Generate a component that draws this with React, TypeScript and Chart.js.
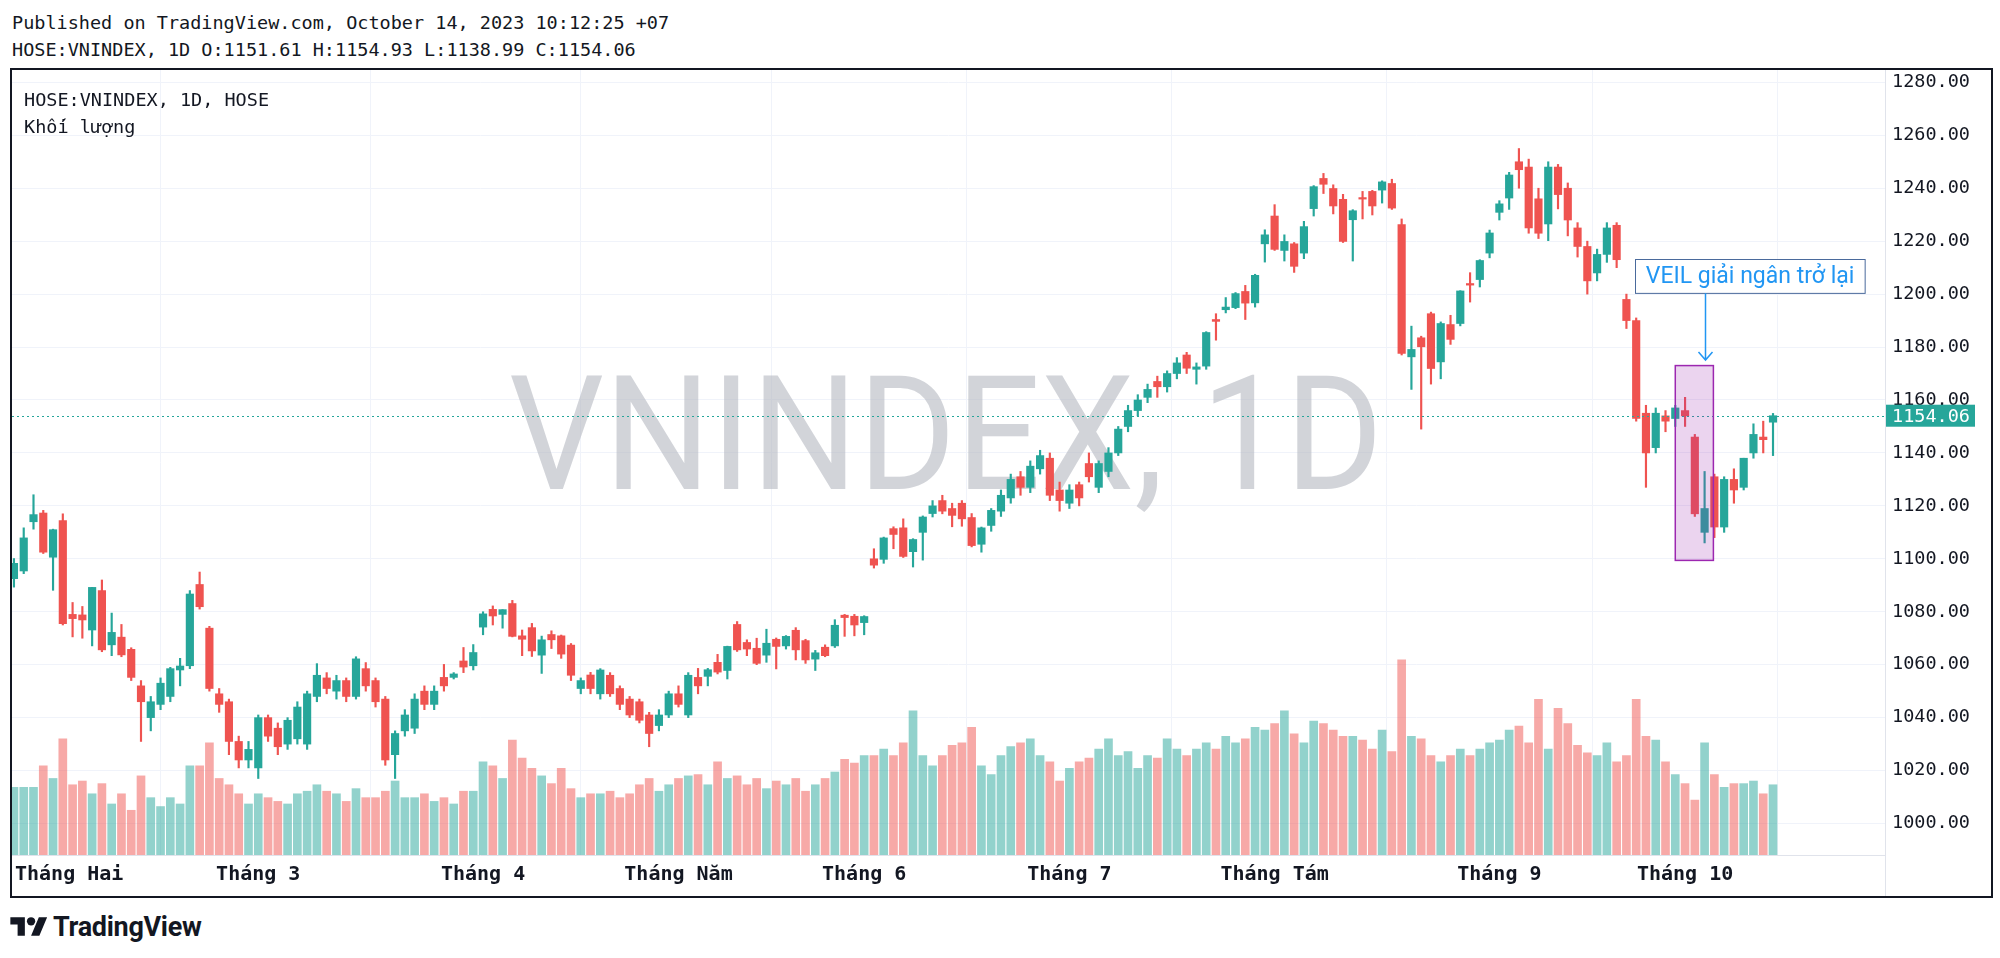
import React, { useEffect, useRef } from "react";
import { Chart, registerables } from "chart.js";

Chart.register(...registerables);

// ---------------- DATA ----------------
const opens = [
  1092.5, 1095.4, 1114.0, 1117.3, 1100.6, 1114.4, 1079.0, 1078.8, 1073.1, 1088.0,
  1067.5, 1070.4, 1065.8, 1052.0, 1040.0, 1045.0, 1048.0, 1058.0, 1059.6, 1090.3,
  1073.8, 1049.0, 1046.0, 1031.0, 1024.0, 1021.0, 1040.0, 1036.0, 1030.0, 1032.0,
  1030.0, 1048.0, 1055.0, 1050.0, 1054.0, 1048.0, 1058.5, 1054.0, 1047.0, 1026.0,
  1035.0, 1036.0, 1050.0, 1045.0, 1055.2, 1055.2, 1061.4, 1059.6, 1074.2, 1080.9,
  1079.0, 1083.1, 1070.9, 1074.0, 1063.6, 1071.4, 1070.9, 1067.4, 1051.0, 1056.1,
  1049.0, 1056.0, 1051.0, 1047.0, 1046.0, 1041.0, 1037.0, 1041.0, 1049.0, 1041.0,
  1055.2, 1055.6, 1060.9, 1057.8, 1075.2, 1068.4, 1066.2, 1063.6, 1069.6, 1067.1,
  1073.0, 1069.1, 1062.1, 1066.6, 1067.1, 1078.7, 1078.3, 1075.9, 1100.0, 1099.8,
  1111.4, 1111.7, 1102.7, 1110.0, 1117.1, 1122.0, 1119.0, 1121.0, 1115.6, 1105.5,
  1112.6, 1118.0, 1123.0, 1131.0, 1127.0, 1134.0, 1138.0, 1126.0, 1121.0, 1128.0,
  1136.0, 1127.0, 1133.0, 1140.0, 1150.0, 1156.0, 1161.0, 1167.0, 1165.0, 1170.0,
  1177.0, 1171.6, 1172.8, 1190.4, 1194.1, 1194.9, 1201.0, 1196.7, 1219.0, 1229.5,
  1216.5, 1219.0, 1215.5, 1232.3, 1243.7, 1239.9, 1235.8, 1228.1, 1236.3, 1238.8,
  1239.3, 1241.8, 1226.3, 1176.3, 1183.5, 1192.6, 1174.4, 1188.5, 1188.9, 1204.0,
  1205.5, 1215.5, 1230.9, 1236.3, 1250.0, 1248.0, 1236.0, 1226.5, 1248.0, 1240.0,
  1225.0, 1218.0, 1208.0, 1215.0, 1226.0, 1198.0, 1190.0, 1155.0, 1142.0, 1154.0,
  1153.0, 1156.0, 1146.0, 1110.0, 1131.0, 1112.0, 1130.0, 1127.0, 1140.0, 1146.0,
  1151.61,
];

const highs = [
  1100.1, 1111.7, 1124.2, 1118.3, 1111.2, 1117.0, 1083.5, 1082.0, 1089.2, 1092.0,
  1079.5, 1075.2, 1066.4, 1054.0, 1048.0, 1055.0, 1059.0, 1062.4, 1088.0, 1095.0,
  1074.5, 1051.0, 1047.0, 1033.0, 1031.0, 1041.0, 1041.0, 1038.0, 1040.0, 1046.0,
  1050.0, 1060.4, 1057.0, 1056.0, 1055.0, 1063.0, 1060.8, 1055.0, 1048.0, 1035.0,
  1043.0, 1049.0, 1052.0, 1052.0, 1060.1, 1057.0, 1066.5, 1067.6, 1080.0, 1082.2,
  1080.8, 1084.3, 1073.1, 1075.6, 1070.8, 1072.8, 1071.2, 1068.0, 1055.0, 1057.1,
  1058.5, 1057.0, 1052.0, 1048.0, 1047.0, 1042.0, 1043.0, 1050.0, 1052.0, 1057.0,
  1058.6, 1058.6, 1063.9, 1067.0, 1076.3, 1069.4, 1070.0, 1073.4, 1070.1, 1071.0,
  1074.0, 1069.6, 1065.4, 1067.5, 1077.0, 1079.0, 1079.0, 1078.5, 1103.8, 1108.2,
  1112.1, 1115.1, 1107.6, 1116.2, 1122.0, 1124.0, 1121.0, 1122.0, 1117.1, 1112.0,
  1119.0, 1126.0, 1132.0, 1133.0, 1137.0, 1141.0, 1140.0, 1129.0, 1128.0, 1129.0,
  1140.0, 1137.0, 1142.0, 1150.0, 1158.0, 1162.0, 1166.0, 1169.0, 1171.0, 1176.0,
  1178.0, 1174.0, 1185.8, 1192.6, 1198.7, 1200.6, 1203.3, 1207.5, 1224.3, 1233.8,
  1222.4, 1219.5, 1227.5, 1241.0, 1245.6, 1241.3, 1237.7, 1231.9, 1238.8, 1239.2,
  1242.8, 1243.4, 1228.4, 1187.9, 1184.1, 1193.2, 1189.5, 1192.0, 1201.3, 1208.1,
  1213.0, 1224.2, 1235.3, 1246.0, 1255.0, 1251.0, 1240.0, 1250.0, 1249.0, 1242.0,
  1227.0, 1220.0, 1217.0, 1227.0, 1227.0, 1200.0, 1191.0, 1158.0, 1157.0, 1156.0,
  1158.0, 1161.0, 1147.0, 1133.0, 1132.0, 1131.0, 1134.0, 1138.0, 1151.0, 1152.0,
  1154.93,
];

const lows = [
  1089.3, 1094.4, 1111.2, 1102.0, 1088.1, 1075.0, 1070.5, 1070.0, 1067.1, 1064.9,
  1063.4, 1063.0, 1054.0, 1031.0, 1035.0, 1043.0, 1046.0, 1052.0, 1058.5, 1081.0,
  1050.0, 1042.0, 1026.0, 1021.0, 1021.0, 1017.0, 1031.0, 1026.0, 1028.0, 1030.0,
  1028.0, 1046.0, 1049.0, 1047.0, 1046.0, 1047.0, 1050.0, 1044.0, 1022.0, 1017.0,
  1033.0, 1034.0, 1043.0, 1043.0, 1050.0, 1054.6, 1057.0, 1058.0, 1071.3, 1075.0,
  1073.8, 1070.5, 1063.4, 1063.1, 1056.7, 1066.1, 1062.4, 1054.0, 1049.0, 1049.0,
  1047.0, 1048.0, 1043.0, 1040.0, 1038.0, 1029.0, 1035.0, 1040.0, 1044.0, 1040.0,
  1049.0, 1052.0, 1056.5, 1054.6, 1065.0, 1063.4, 1060.0, 1060.9, 1058.4, 1065.9,
  1061.8, 1060.5, 1057.8, 1063.0, 1066.5, 1070.7, 1070.9, 1071.3, 1096.5, 1098.3,
  1103.8, 1100.5, 1096.9, 1099.5, 1115.8, 1117.0, 1112.1, 1112.3, 1104.5, 1102.5,
  1110.4, 1116.0, 1121.0, 1124.0, 1125.0, 1132.0, 1122.0, 1118.0, 1119.0, 1120.0,
  1129.0, 1125.0, 1131.0, 1139.0, 1148.0, 1154.0, 1159.0, 1161.0, 1163.0, 1168.0,
  1170.0, 1166.0, 1171.6, 1182.6, 1192.9, 1194.5, 1190.4, 1195.1, 1212.1, 1216.5,
  1212.5, 1208.2, 1213.4, 1229.5, 1238.0, 1230.3, 1219.5, 1212.5, 1228.4, 1229.9,
  1234.4, 1232.0, 1177.0, 1164.0, 1149.0, 1166.0, 1168.0, 1181.0, 1188.0, 1197.0,
  1202.7, 1213.7, 1228.0, 1232.0, 1240.0, 1223.0, 1221.0, 1220.2, 1232.2, 1222.0,
  1214.0, 1200.0, 1205.0, 1212.0, 1210.0, 1187.0, 1152.0, 1127.0, 1140.0, 1148.0,
  1150.0, 1150.0, 1116.0, 1106.0, 1108.0, 1110.0, 1121.0, 1126.0, 1138.0, 1140.0,
  1138.99,
];

const closes = [
  1098.3, 1107.9, 1116.7, 1102.5, 1111.0, 1075.5, 1077.4, 1076.9, 1089.2, 1065.6,
  1072.2, 1063.7, 1055.2, 1046.0, 1046.0, 1053.0, 1058.5, 1059.5, 1086.7, 1081.9,
  1051.0, 1045.0, 1031.0, 1024.0, 1028.0, 1040.0, 1033.0, 1029.0, 1039.0, 1044.0,
  1049.0, 1056.0, 1051.0, 1054.0, 1048.0, 1062.2, 1052.0, 1046.0, 1024.0, 1034.0,
  1041.0, 1047.0, 1045.0, 1050.0, 1052.0, 1056.5, 1059.1, 1064.6, 1079.2, 1078.4,
  1080.8, 1070.7, 1069.6, 1065.2, 1069.4, 1069.4, 1064.0, 1056.0, 1054.0, 1051.0,
  1058.0, 1049.0, 1045.0, 1041.0, 1039.0, 1034.0, 1041.0, 1049.0, 1045.0, 1056.0,
  1052.0, 1058.1, 1057.2, 1066.9, 1065.6, 1065.9, 1060.5, 1068.1, 1066.9, 1070.7,
  1065.6, 1061.8, 1064.5, 1063.4, 1074.9, 1077.8, 1075.0, 1078.2, 1097.6, 1107.9,
  1109.2, 1100.9, 1107.3, 1115.8, 1120.0, 1118.0, 1116.4, 1115.1, 1105.0, 1111.7,
  1118.3, 1124.0, 1130.0, 1127.0, 1135.0, 1139.0, 1124.0, 1122.0, 1126.0, 1123.0,
  1131.0, 1136.0, 1140.0, 1149.0, 1156.0, 1160.0, 1164.0, 1165.0, 1170.0, 1174.0,
  1172.0, 1172.5, 1185.5, 1189.7, 1195.1, 1200.2, 1196.6, 1207.1, 1222.4, 1216.9,
  1219.9, 1210.5, 1225.5, 1240.6, 1241.5, 1233.3, 1219.9, 1231.5, 1235.9, 1233.3,
  1242.4, 1232.5, 1177.6, 1179.1, 1180.1, 1171.9, 1188.9, 1182.9, 1201.2, 1203.4,
  1212.7, 1223.1, 1234.1, 1245.0, 1247.0, 1225.0, 1223.0, 1248.0, 1237.6, 1228.0,
  1218.0, 1205.0, 1215.0, 1225.0, 1213.0, 1190.0, 1153.0, 1140.0, 1155.0, 1152.0,
  1157.0, 1154.0, 1117.0, 1119.0, 1112.0, 1130.0, 1126.0, 1138.0, 1147.0, 1145.0,
  1154.06,
];

// volume, millions of shares (estimated)
const volumes = [
  472, 472, 472, 623, 534, 810, 490, 516, 427, 498,
  356, 427, 312, 552, 400, 338, 400, 356, 623, 623,
  783, 534, 490, 427, 356, 427, 400, 374, 356, 427,
  445, 490, 445, 427, 374, 463, 400, 400, 445, 516,
  400, 400, 427, 374, 400, 356, 445, 445, 650, 623,
  534, 801, 676, 605, 552, 498, 605, 463, 400, 427,
  427, 445, 400, 427, 490, 534, 445, 490, 534, 552,
  561, 490, 650, 534, 552, 490, 534, 463, 516, 490,
  534, 445, 490, 534, 579, 668, 641, 694, 694, 739,
  694, 783, 1006, 694, 623, 694, 765, 783, 890, 623,
  561, 694, 757, 783, 810, 694, 650, 516, 605, 650,
  676, 739, 810, 694, 721, 605, 694, 676, 810, 739,
  694, 739, 783, 739, 828, 783, 810, 890, 872, 917,
  1006, 846, 783, 935, 917, 872, 828, 828, 801, 739,
  872, 721, 1362, 828, 810, 694, 650, 694, 739, 694,
  739, 783, 801, 872, 899, 783, 1086, 739, 1024, 917,
  765, 712, 694, 783, 650, 694, 1086, 828, 801, 650,
  561, 498, 383, 783, 561, 472, 498, 498, 516, 427,
  490,
];

const monthTicks = [5, 25, 48, 68, 87, 108, 129, 152, 171];
const monthLabels = ["Tháng Hai", "Tháng 3", "Tháng 4", "Tháng Năm", "Tháng 6", "Tháng 7", "Tháng Tám", "Tháng 9", "Tháng 10"];
const priceTicks = [1000, 1020, 1040, 1060, 1080, 1100, 1120, 1140, 1160, 1180, 1200, 1220, 1240, 1260, 1280];
const lastPrice = 1154.06;

const symbolLine = "HOSE:VNINDEX, 1D, HOSE";
const volumeLine = "Khối lượng";
const watermarkText = "VNINDEX, 1D";
const headerLine1 = "Published on TradingView.com, October 14, 2023 10:12:25 +07";
const headerLine2 = "HOSE:VNINDEX, 1D O:1151.61 H:1154.93 L:1138.99 C:1154.06";

// annotation anchors, in data units (bar index, price)
const noteText = "VEIL giải ngân trở lại";
const noteBox = { x0: 165.9, x1: 189.4, top: 1213.1, bottom: 1200.3 };
const noteArrow = { x: 173.05, from: 1200.3, to: 1175.1 };
const highlight = { x0: 170.0, x1: 173.9, top: 1173.0, bottom: 1099.4 };

// ---------------- STYLE ----------------
const UP = "#26a69a";
const DOWN = "#ef5350";
const UP_VOL = "rgba(38,166,154,0.5)";
const DOWN_VOL = "rgba(239,83,80,0.5)";
const TEXT = "#131722";
const GRID = "#f0f3fa";
const MONO = "'DejaVu Sans Mono', monospace";

const zeroPad = (s: any) => {
  s.paddingLeft = 0;
  s.paddingRight = 0;
  s.paddingTop = 0;
  s.paddingBottom = 0;
};

const overlayPlugin = {
  id: "overlay",
  beforeDatasetsDraw(chart: any) {
    const { ctx, chartArea: a } = chart;
    ctx.save();
    ctx.beginPath();
    ctx.rect(a.left, a.top, a.right - a.left, a.bottom - a.top);
    ctx.clip();
    ctx.font = "400 159px Roboto";
    const w = ctx.measureText(watermarkText).width;
    ctx.translate(a.left + 934, a.top + 419);
    ctx.scale(874 / w, 1);
    ctx.fillStyle = "rgba(180,183,192,0.6)";
    ctx.textAlign = "center";
    ctx.textBaseline = "alphabetic";
    ctx.fillText(watermarkText, 0, 0);
    ctx.restore();
  },
  afterDatasetsDraw(chart: any) {
    const { ctx, chartArea: a, scales } = chart;
    const x = scales.x;
    const y = scales.y;
    ctx.save();
    // last price dotted line
    const py = Math.round(y.getPixelForValue(lastPrice)) + 0.5;
    ctx.strokeStyle = UP;
    ctx.lineWidth = 1;
    ctx.setLineDash([2, 3]);
    ctx.beginPath();
    ctx.moveTo(a.left, py);
    ctx.lineTo(a.right, py);
    ctx.stroke();
    ctx.setLineDash([]);

    // highlight rectangle
    const rx0 = x.getPixelForValue(highlight.x0);
    const rx1 = x.getPixelForValue(highlight.x1);
    const ry0 = y.getPixelForValue(highlight.top);
    const ry1 = y.getPixelForValue(highlight.bottom);
    ctx.fillStyle = "rgba(156,39,176,0.2)";
    ctx.fillRect(rx0, ry0, rx1 - rx0, ry1 - ry0);
    ctx.strokeStyle = "#9c27b0";
    ctx.lineWidth = 1.5;
    ctx.strokeRect(rx0, ry0, rx1 - rx0, ry1 - ry0);

    // note box
    const bx0 = x.getPixelForValue(noteBox.x0);
    const bx1 = x.getPixelForValue(noteBox.x1);
    const by0 = y.getPixelForValue(noteBox.top);
    const by1 = y.getPixelForValue(noteBox.bottom);
    ctx.fillStyle = "#ffffff";
    ctx.fillRect(bx0, by0, bx1 - bx0, by1 - by0);
    ctx.strokeStyle = "#4a6a9c";
    ctx.lineWidth = 1;
    ctx.strokeRect(Math.round(bx0) + 0.5, Math.round(by0) + 0.5, bx1 - bx0, by1 - by0);
    ctx.fillStyle = "#2196f3";
    ctx.font = "23px Roboto";
    ctx.textAlign = "center";
    ctx.textBaseline = "middle";
    ctx.fillText(noteText, (bx0 + bx1) / 2, (by0 + by1) / 2 + 1);

    // arrow
    const ax = Math.round(x.getPixelForValue(noteArrow.x)) + 0.5;
    const ay0 = y.getPixelForValue(noteArrow.from);
    const ay1 = y.getPixelForValue(noteArrow.to);
    ctx.strokeStyle = "#2196f3";
    ctx.lineWidth = 1.5;
    ctx.beginPath();
    ctx.moveTo(ax, ay0);
    ctx.lineTo(ax, ay1);
    ctx.moveTo(ax - 7, ay1 - 8);
    ctx.lineTo(ax, ay1);
    ctx.lineTo(ax + 7, ay1 - 8);
    ctx.stroke();
    ctx.restore();
  },
  afterDraw(chart: any) {
    const { ctx, chartArea: a, scales } = chart;
    const y = scales.y;
    const x = scales.x;
    ctx.save();
    // legend lines in pane
    ctx.fillStyle = TEXT;
    ctx.font = `18.5px ${MONO}`;
    ctx.textAlign = "left";
    ctx.textBaseline = "middle";
    ctx.fillText(symbolLine, a.left + 12, a.top + 31);
    ctx.fillText(volumeLine, a.left + 12, a.top + 58);

    // month labels on time axis (kept inside the pane)
    ctx.font = `bold 20px ${MONO}`;
    monthTicks.forEach((v, k) => {
      const label = monthLabels[k];
      const w = ctx.measureText(label).width;
      const cx = x.getPixelForValue(v);
      const left = Math.max(a.left + 3, Math.min(cx - w / 2, a.right - w - 3));
      ctx.fillText(label, left, a.bottom + 20);
    });

    // last price label on axis
    const py = y.getPixelForValue(lastPrice);
    ctx.fillStyle = UP;
    ctx.fillRect(a.right, py - 11, 90, 22);
    ctx.fillStyle = "#ffffff";
    ctx.font = `18.5px ${MONO}`;
    ctx.fillText(lastPrice.toFixed(2), a.right + 7, py + 1);

    // separators
    ctx.strokeStyle = "#e0e3eb";
    ctx.lineWidth = 1;
    ctx.beginPath();
    ctx.moveTo(a.right + 0.5, 0);
    ctx.lineTo(a.right + 0.5, chart.height);
    ctx.stroke();
    ctx.restore();
  },
};

export default function App() {
  const canvasRef = useRef<HTMLCanvasElement | null>(null);

  useEffect(() => {
    const idx = closes.map((_, i) => i);
    const isUp = (i: number) => closes[i] >= opens[i];
    const candleColors = idx.map((i) => (isUp(i) ? UP : DOWN));
    const volColors = idx.map((i) => (isUp(i) ? UP_VOL : DOWN_VOL));

    const chart = new Chart(canvasRef.current as HTMLCanvasElement, {
      type: "bar",
      data: {
        datasets: [
          {
            label: "Volume",
            data: idx.map((i) => ({ x: i, y: volumes[i] })),
            yAxisID: "yv",
            backgroundColor: volColors,
            barThickness: 8,
            grouped: false,
            order: 3,
          } as any,
          {
            label: "Wick",
            data: idx.map((i) => ({ x: i, y: [lows[i], highs[i]] })),
            yAxisID: "y",
            backgroundColor: candleColors,
            barThickness: 1.5,
            grouped: false,
            order: 2,
          } as any,
          {
            label: "Body",
            data: idx.map((i) => ({ x: i, y: [opens[i], closes[i]] })),
            yAxisID: "y",
            backgroundColor: candleColors,
            barThickness: 7.5,
            minBarLength: 1.5,
            grouped: false,
            order: 1,
          } as any,
        ],
      },
      options: {
        animation: false,
        responsive: false,
        maintainAspectRatio: false,
        devicePixelRatio: 1,
        events: [],
        layout: { padding: 0 },
        plugins: { legend: { display: false }, tooltip: { enabled: false } },
        scales: {
          x: {
            type: "linear",
            min: -0.2,
            max: 191.46,
            offset: false,
            afterBuildTicks: (s: any) => {
              s.ticks = monthTicks.map((v) => ({ value: v }));
            },
            afterFit: (s: any) => {
              s.height = 41;
              zeroPad(s);
            },
            ticks: { display: false },
            grid: { color: GRID, drawTicks: false, lineWidth: 1 },
            border: { display: true, color: "#e0e3eb" },
          },
          y: {
            type: "linear",
            position: "right",
            min: 988.1,
            max: 1284.67,
            afterBuildTicks: (s: any) => {
              s.ticks = priceTicks.map((v) => ({ value: v }));
            },
            afterFit: (s: any) => {
              s.width = 106;
              zeroPad(s);
            },
            ticks: {
              padding: 7,
              color: TEXT,
              font: { family: MONO, size: 18.5 },
              callback: (v: any) => Number(v).toFixed(2),
            },
            grid: { color: GRID, drawTicks: false, lineWidth: 1 },
            border: { display: true, color: "#e0e3eb" },
          },
          yv: {
            type: "linear",
            display: false,
            min: 0,
            max: 5477,
          },
        },
      } as any,
      plugins: [overlayPlugin],
    });
    return () => chart.destroy();
  }, []);

  return (
    <div
      style={{
        position: "absolute",
        left: 0,
        top: 0,
        width: 2000,
        height: 958,
        background: "#ffffff",
        color: TEXT,
        fontFamily: MONO,
        overflow: "hidden",
      }}
    >
      <div style={{ position: "absolute", left: 12, top: 11, fontSize: 18.5, lineHeight: "24px", whiteSpace: "pre" }}>
        {headerLine1}
      </div>
      <div style={{ position: "absolute", left: 12, top: 38, fontSize: 18.5, lineHeight: "24px", whiteSpace: "pre" }}>
        {headerLine2}
      </div>
      <div
        style={{
          position: "absolute",
          left: 10,
          top: 68,
          width: 1979,
          height: 826,
          border: "2px solid #131722",
        }}
      >
        <canvas ref={canvasRef} width={1979} height={826} style={{ display: "block", width: 1979, height: 826 }} />
      </div>
      <div style={{ position: "absolute", left: 10, top: 912, height: 30, display: "flex", alignItems: "center" }}>
        <svg width="38" height="29" viewBox="0 0 36 28" style={{ display: "block" }}>
          <path d="M14 22H7V11H0V4h14v18zM28 22h-8l7.5-18h8L28 22z" fill="#131722" />
          <circle cx="20" cy="8" r="4" fill="#131722" />
        </svg>
        <span
          style={{
            marginLeft: 5,
            fontFamily: "Roboto, sans-serif",
            fontWeight: 700,
            fontSize: 27,
            letterSpacing: -0.3,
            color: "#131722",
          }}
        >
          TradingView
        </span>
      </div>
    </div>
  );
}
